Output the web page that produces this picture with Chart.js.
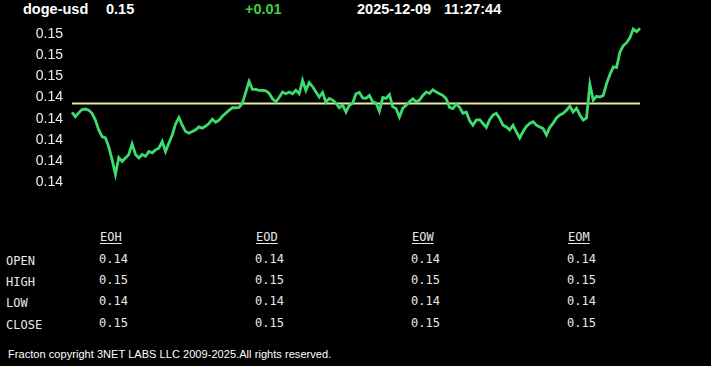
<!DOCTYPE html>
<html lang="en">
<head>
    <meta charset="UTF-8">
    <title>doge-usd</title>
    <script src="https://cdn.jsdelivr.net/npm/chart.js@4.4.1/dist/chart.umd.min.js"></script>
    <style>
        html, body { margin: 0; padding: 0; background: #000; }
        body { width: 711px; height: 366px; position: relative; overflow: hidden; font-family: "Liberation Sans", Arial, sans-serif; }
        .hdr { position: absolute; top: 1px; font-weight: bold; font-size: 14.5px; color: #fff; white-space: nowrap; }
        #chartBox { position: absolute; left: 0; top: 0; width: 711px; height: 200px; }
        .tbl { position: absolute; font-family: "DejaVu Sans Mono", monospace; font-size: 12px; color: #e8e8e8; white-space: nowrap; }
        .tbl.head { text-decoration: underline; text-underline-offset: 2px; }
        #footer { position: absolute; left: 8px; top: 348px; font-size: 11px; color: #fff; white-space: nowrap; letter-spacing: 0.05px; }
    </style>
</head>
<body>
    <!-- Header -->
    <div class="hdr" id="sym" style="left:23px"></div>
    <div class="hdr" id="last" style="left:106px"></div>
    <div class="hdr" id="chg" style="left:245px; color:#3fcf3f"></div>
    <div class="hdr" id="date" style="left:357px"></div>
    <div class="hdr" id="time" style="left:444px"></div>

    <!-- Chart -->
    <div id="chartBox"><canvas id="priceChart"></canvas></div>

    <!-- OHLC table -->
    <div id="table"></div>

    <div id="footer">Fracton copyright 3NET LABS LLC 2009-2025.All rights reserved.</div>

    <script>
        // header values
        const symbol = 'doge-usd';
        const lastPrice = '0.15';
        const change = '+0.01';
        const stampDate = '2025-12-09';
        const stampTime = '11:27:44';

        // intraday price series
        const prices = [
            0.14465, 0.14455, 0.14464, 0.14472, 0.14473, 0.14470, 0.14463, 0.14447, 0.14424, 0.14408,
            0.14405, 0.14384, 0.14354, 0.14319, 0.14359, 0.14350, 0.14358, 0.14366, 0.14391, 0.14366,
            0.14358, 0.14366, 0.14362, 0.14373, 0.14370, 0.14377, 0.14381, 0.14397, 0.14373, 0.14393,
            0.14412, 0.14438, 0.14453, 0.14435, 0.14420, 0.14416, 0.14420, 0.14424, 0.14431, 0.14428,
            0.14433, 0.14439, 0.14449, 0.14442, 0.14447, 0.14456, 0.14463, 0.14470, 0.14476, 0.14476,
            0.14477, 0.14487, 0.14512, 0.14538, 0.14519, 0.14519, 0.14517, 0.14517, 0.14516, 0.14510,
            0.14497, 0.14490, 0.14500, 0.14513, 0.14509, 0.14513, 0.14509, 0.14517, 0.14509, 0.14540,
            0.14517, 0.14535, 0.14526, 0.14513, 0.14501, 0.14512, 0.14489, 0.14498, 0.14494, 0.14487,
            0.14476, 0.14482, 0.14466, 0.14482, 0.14487, 0.14509, 0.14512, 0.14499, 0.14498, 0.14505,
            0.14490, 0.14487, 0.14468, 0.14500, 0.14498, 0.14507, 0.14478, 0.14474, 0.14454, 0.14475,
            0.14482, 0.14490, 0.14497, 0.14490, 0.14494, 0.14505, 0.14513, 0.14510, 0.14518, 0.14513,
            0.14509, 0.14505, 0.14497, 0.14477, 0.14474, 0.14485, 0.14477, 0.14463, 0.14466, 0.14446,
            0.14435, 0.14447, 0.14448, 0.14439, 0.14430, 0.14448, 0.14459, 0.14463, 0.14451, 0.14435,
            0.14431, 0.14424, 0.14435, 0.14419, 0.14405, 0.14420, 0.14432, 0.14439, 0.14443, 0.14435,
            0.14431, 0.14427, 0.14412, 0.14430, 0.14440, 0.14452, 0.14459, 0.14463, 0.14470, 0.14480,
            0.14466, 0.14475, 0.14459, 0.14447, 0.14452, 0.14531, 0.14494, 0.14503, 0.14501, 0.14505,
            0.14533, 0.14554, 0.14572, 0.14571, 0.14607, 0.14622, 0.14629, 0.14641, 0.14661, 0.14655,
            0.14663
        ];
        const refLevel = 0.14486;   // yellow reference line

        // y axis ticks and their (rounded) labels, bottom to top
        const yTickValues = [0.1430, 0.1435, 0.1440, 0.1445, 0.1450, 0.1455, 0.1460, 0.1465];
        const yTickLabels = ['0.14', '0.14', '0.14', '0.14', '0.14', '0.15', '0.15', '0.15'];

        // OHLC table
        const periods = ['EOH', 'EOD', 'EOW', 'EOM'];
        const rowNames = ['OPEN', 'HIGH', 'LOW', 'CLOSE'];
        const openVals = ['0.14', '0.14', '0.14', '0.14'];
        const highVals = ['0.15', '0.15', '0.15', '0.15'];
        const lowVals = ['0.14', '0.14', '0.14', '0.14'];
        const closeVals = ['0.15', '0.15', '0.15', '0.15'];

        document.getElementById('sym').textContent = symbol;
        document.getElementById('last').textContent = lastPrice;
        document.getElementById('chg').textContent = change;
        document.getElementById('date').textContent = stampDate;
        document.getElementById('time').textContent = stampTime;

        // build table
        const tbl = document.getElementById('table');
        const colX = [99, 255, 411, 567];
        const rowY = [252, 273, 294, 316];
        const rows = [openVals, highVals, lowVals, closeVals];
        function addCell(text, x, y, cls) {
            const d = document.createElement('div');
            d.className = 'tbl' + (cls ? ' ' + cls : '');
            d.style.left = x + 'px';
            d.style.top = y + 'px';
            d.textContent = text;
            tbl.appendChild(d);
        }
        periods.forEach((p, i) => addCell(p, colX[i] + 1, 230, 'head'));
        rowNames.forEach((r, j) => {
            addCell(r, 6, rowY[j] + 2);
            rows[j].forEach((v, i) => addCell(v, colX[i], rowY[j]));
        });

        // chart
        const labels = prices.map((_, i) => i);
        const ctx = document.getElementById('priceChart').getContext('2d');
        new Chart(ctx, {
            type: 'line',
            data: {
                labels: labels,
                datasets: [{
                    data: prices,
                    borderColor: '#3ddc6e',
                    borderWidth: 2.8,
                    pointRadius: 0,
                    tension: 0
                }, {
                    data: labels.map(() => refLevel),
                    borderColor: '#e4eb9c',
                    borderWidth: 2,
                    pointRadius: 0
                }]
            },
            options: {
                responsive: true,
                maintainAspectRatio: false,
                animation: false,
                layout: { padding: { left: 0, right: 71, top: 21, bottom: 15 } },
                plugins: { legend: { display: false }, tooltip: { enabled: false } },
                scales: {
                    x: { display: false, offset: false },
                    y: {
                        min: 0.1430,
                        max: 0.1468,
                        border: { display: false },
                        grid: { display: false, drawTicks: false },
                        afterBuildTicks: (scale) => {
                            scale.ticks = yTickValues.map(v => ({ value: v }));
                        },
                        afterFit: (scale) => { scale.width = 72; },
                        ticks: {
                            autoSkip: false,
                            padding: 9,
                            color: '#eeeeee',
                            font: { family: 'Liberation Sans, Arial', size: 14 },
                            callback: (v, i) => yTickLabels[i]
                        }
                    }
                }
            }
        });
    </script>
</body>
</html>
